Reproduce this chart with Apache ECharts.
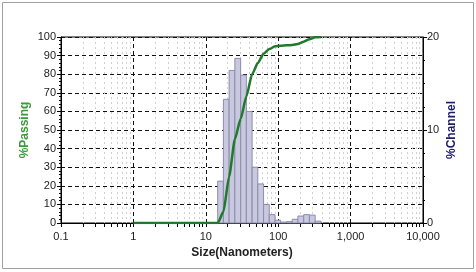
<!DOCTYPE html>
<html>
<head>
<meta charset="utf-8">
<script src="https://cdn.jsdelivr.net/npm/echarts@6/dist/echarts.min.js"></script>
<style>
html,body{margin:0;padding:0;background:#fff;}
#c{width:476px;height:272px;}
</style>
</head>
<body>
<div id="c"></div>
<script>
// Bin edges (nm) of the channels
var binEdges = [14.6, 17.5, 21.0, 25.2, 30.3, 36.3, 43.6, 52.3, 62.8, 75.3, 90.4, 108, 130, 156, 187, 225, 270, 324, 389];
// % in each channel (between consecutive edges)
var channelPct = [4.5, 13.3, 16.4, 17.7, 15.9, 12.0, 6.0, 4.2, 2.0, 0.9, 0.3, 0.1, 0.15, 0.4, 0.75, 0.9, 0.85, 0.2];
// Cumulative % passing curve
var passSizes = [1, 14.6, 17.5, 21.0, 25.2, 30.3, 36.3, 43.6, 52.3, 62.8, 75.3, 90.4, 108, 130, 156, 187, 225, 270, 324, 389];
var passPct   = [0, 0, 6, 25, 45, 56, 68, 80, 86, 91, 93.5, 95, 95.3, 95.5, 95.7, 96.2, 97.5, 98.8, 99.8, 100];
// Tick labels
var xTickValues = [0.1, 1, 10, 100, 1000, 10000];
var xTickLabels = ['0.1', '1', '10', '100', '1,000', '10,000'];

var barData = channelPct.map(function (v, i) { return [binEdges[i], binEdges[i + 1], v]; });
var lineData = passSizes.map(function (s, i) { return [s, passPct[i]]; });

function fmtX(v) {
  for (var i = 0; i < xTickValues.length; i++) {
    if (Math.abs(v - xTickValues[i]) / xTickValues[i] < 1e-6) return xTickLabels[i];
  }
  return '';
}

var font = 'Liberation Sans, Arial, sans-serif';
var chart = echarts.init(document.getElementById('c'), null, {renderer: 'canvas'});
chart.setOption({
  animation: false,
  backgroundColor: '#fff',
  graphic: [{
    type: 'rect', shape: {x: 2.5, y: 2.5, width: 471, height: 266},
    style: {fill: 'none', stroke: '#a0a0a0', lineWidth: 1}, silent: true, z: -1
  }],
  grid: {left: 61, right: 53, top: 37, bottom: 49, show: true, borderColor: '#000', borderWidth: 1, backgroundColor: '#fff'},
  xAxis: {
    type: 'log', logBase: 10, min: 0.1, max: 10000,
    name: 'Size(Nanometers)', nameLocation: 'middle', nameGap: 24,
    nameTextStyle: {fontFamily: font, fontSize: 12, fontWeight: 'bold', color: '#222'},
    axisLine: {show: true, lineStyle: {color: '#000', width: 1}},
    axisTick: {show: true, length: 4, lineStyle: {color: '#000'}},
    minorTick: {show: true, splitNumber: 9, length: 4, lineStyle: {color: '#000'}},
    axisLabel: {formatter: fmtX, fontFamily: font, fontSize: 11, color: '#222', margin: 8},
    splitLine: {show: true, lineStyle: {color: '#111', type: [4, 3], width: 1}},
    minorSplitLine: {show: true, lineStyle: {color: '#d0d0d0', type: [2, 3], width: 1}}
  },
  yAxis: [{
    type: 'value', min: 0, max: 100, interval: 10, position: 'left',
    name: '%Passing', nameLocation: 'middle', nameGap: 30, nameRotate: 90, nameMoveOverlap: false,
    nameTextStyle: {fontFamily: font, fontSize: 12, fontWeight: 'bold', color: '#3c9a3c'},
    axisLine: {show: true, lineStyle: {color: '#000'}},
    axisTick: {show: true, length: 4, lineStyle: {color: '#000'}},
    minorTick: {show: true, splitNumber: 5, length: 2, lineStyle: {color: '#000'}},
    axisLabel: {fontFamily: font, fontSize: 11, color: '#222', margin: 5},
    splitLine: {show: true, lineStyle: {color: '#111', type: [4, 3], width: 1}}
  }, {
    type: 'value', min: 0, max: 20, interval: 10, position: 'right',
    name: '%Channel', nameLocation: 'middle', nameGap: 23, nameRotate: 90, nameMoveOverlap: false,
    nameTextStyle: {fontFamily: font, fontSize: 12, fontWeight: 'bold', color: '#1c1c6b'},
    axisLine: {show: true, lineStyle: {color: '#000'}},
    axisTick: {show: true, length: 4, lineStyle: {color: '#000'}},
    minorTick: {show: true, splitNumber: 4, length: 2, lineStyle: {color: '#000'}},
    axisLabel: {fontFamily: font, fontSize: 11, color: '#222', margin: 4},
    splitLine: {show: false}
  }],
  series: [{
    type: 'custom',
    xAxisIndex: 0, yAxisIndex: 1,
    data: barData,
    encode: {x: [0, 1], y: 2},
    renderItem: function (params, api) {
      var p0 = api.coord([api.value(0), api.value(2)]);
      var p1 = api.coord([api.value(1), 0]);
      return {
        type: 'rect',
        shape: {x: p0[0], y: p0[1], width: p1[0] - p0[0], height: p1[1] - p0[1]},
        style: {fill: '#c8c8de', stroke: '#8c8cae', lineWidth: 1}
      };
    },
    z: 2
  }, {
    type: 'line',
    xAxisIndex: 0, yAxisIndex: 0,
    data: lineData,
    showSymbol: false, symbol: 'none',
    smooth: 0.2, smoothMonotone: 'x',
    lineStyle: {color: '#1f7a2a', width: 2.5},
    z: 3
  }]
});
</script>
</body>
</html>
